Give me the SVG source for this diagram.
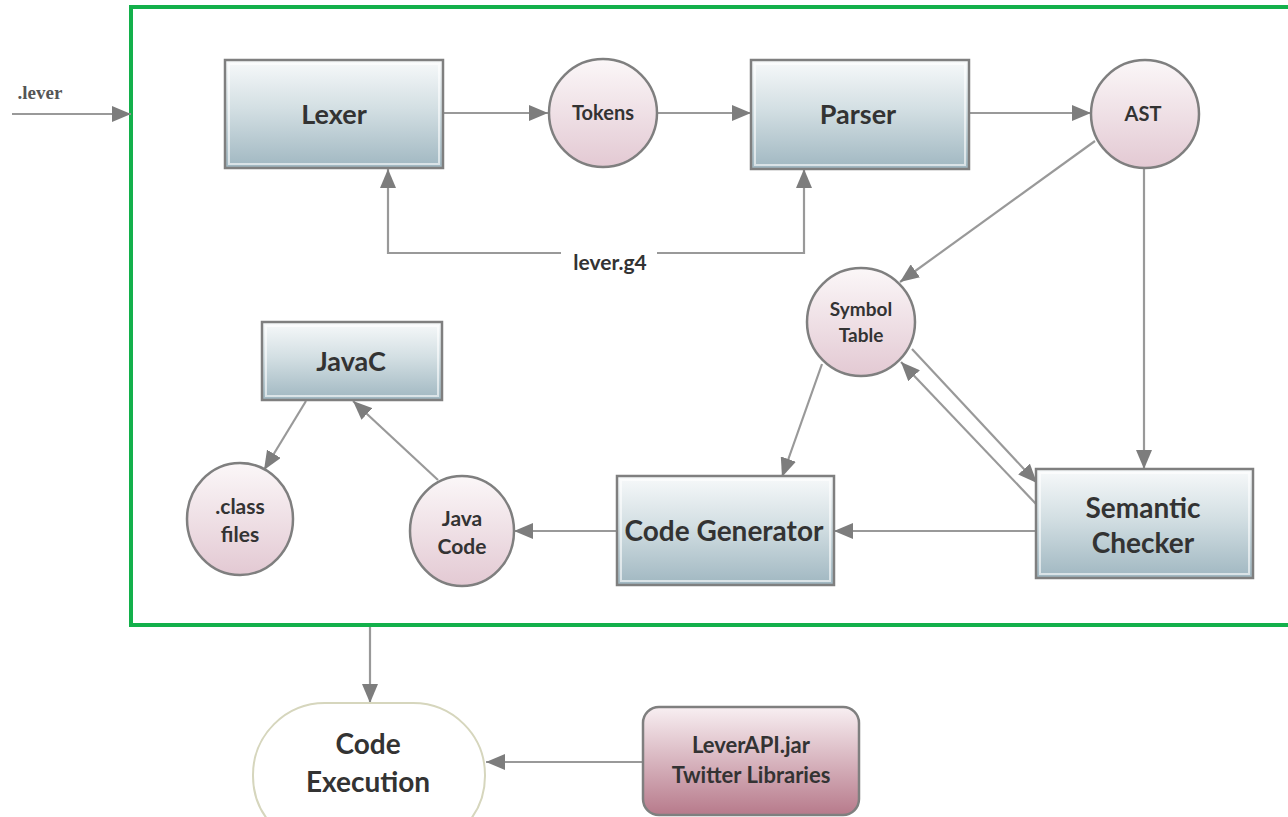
<svg xmlns="http://www.w3.org/2000/svg" width="1288" height="817" viewBox="0 0 1288 817">
<defs>
  <linearGradient id="boxG" x1="0" y1="0" x2="0" y2="1">
    <stop offset="0" stop-color="#f7f9fa"/>
    <stop offset="0.45" stop-color="#d3dfe3"/>
    <stop offset="1" stop-color="#a0b7c1"/>
  </linearGradient>
  <linearGradient id="circG" x1="0" y1="0" x2="0" y2="1">
    <stop offset="0" stop-color="#fbf7f8"/>
    <stop offset="1" stop-color="#e3c9d3"/>
  </linearGradient>
  <linearGradient id="libG" x1="0" y1="0" x2="0" y2="1">
    <stop offset="0" stop-color="#f8eff2"/>
    <stop offset="1" stop-color="#b77a8b"/>
  </linearGradient>
  <marker id="arr" markerUnits="userSpaceOnUse" markerWidth="20" markerHeight="16" refX="19" refY="8" orient="auto">
    <path d="M0,0 L19,8 L0,16 Z" fill="#7d7d7d"/>
  </marker>
</defs>
<style>
  .box { fill: url(#boxG); stroke: #7f7f7f; stroke-width: 2.5; }
  .inner { fill: none; stroke: #ffffff; stroke-opacity: 0.6; stroke-width: 2; }
  .circ { fill: url(#circG); stroke: #7f7f7f; stroke-width: 2.5; }
  .con { fill: none; stroke: #999999; stroke-width: 2.2; }
  .lbl { font-family: Lato, "Open Sans", "Liberation Sans", sans-serif; font-weight: bold; fill: #333333; text-anchor: middle; }
  .frame { fill: none; stroke: #13b04b; stroke-width: 4; }
</style>
<rect class="frame" x="131" y="7" width="1170" height="618"/>

<g id="connectors">
  <path class="con" d="M12,114 L131,114" marker-end="url(#arr)"/>
  <path class="con" d="M443,113 L548,113" marker-end="url(#arr)"/>
  <path class="con" d="M658,113 L751,113" marker-end="url(#arr)"/>
  <path class="con" d="M969,113 L1091,113" marker-end="url(#arr)"/>
  <path class="con" d="M561,253 L388,253 L388,169" marker-end="url(#arr)"/>
  <path class="con" d="M657,253 L804,253 L804,169" marker-end="url(#arr)"/>
  <path class="con" d="M1095,141 L900,282" marker-end="url(#arr)"/>
  <path class="con" d="M1144,168 L1144,469" marker-end="url(#arr)"/>
  <path class="con" d="M912,349 L1037,483" marker-end="url(#arr)"/>
  <path class="con" d="M1037,505 L901,362" marker-end="url(#arr)"/>
  <path class="con" d="M822,364 L782,477" marker-end="url(#arr)"/>
  <path class="con" d="M1036,531 L834,531" marker-end="url(#arr)"/>
  <path class="con" d="M617,531 L514,531" marker-end="url(#arr)"/>
  <path class="con" d="M438,480 L353,401" marker-end="url(#arr)"/>
  <path class="con" d="M306,401 L264,470" marker-end="url(#arr)"/>
  <path class="con" d="M370,627 L370,703" marker-end="url(#arr)"/>
  <path class="con" d="M643,762 L486,762" marker-end="url(#arr)"/>
  <text x="610" y="270" class="lbl" style="font-size:21px">lever.g4</text>
  <text x="40" y="99" style="font-family:'Liberation Serif',serif;font-size:19px;font-weight:bold;fill:#555555;text-anchor:middle">.lever</text>
</g>

<g id="lexer">
  <rect class="box" x="225" y="60" width="218" height="108"/>
  <rect class="inner" x="229" y="64" width="210" height="100"/>
  <text x="334" y="124" class="lbl" style="font-size:27px">Lexer</text>
</g>
<g id="tokens">
  <circle class="circ" cx="603" cy="113" r="54"/>
  <text x="603" y="120" class="lbl" style="font-size:20px">Tokens</text>
</g>
<g id="parser">
  <rect class="box" x="751" y="60" width="218" height="109"/>
  <rect class="inner" x="755" y="64" width="210" height="101"/>
  <text x="858" y="124" class="lbl" style="font-size:27px">Parser</text>
</g>
<g id="ast">
  <circle class="circ" cx="1145" cy="114" r="54"/>
  <text x="1143" y="121" class="lbl" style="font-size:20px">AST</text>
</g>
<g id="symbol-table">
  <circle class="circ" cx="861" cy="322" r="54"/>
  <text x="861" y="316" class="lbl" style="font-size:19px">Symbol</text>
  <text x="861" y="342" class="lbl" style="font-size:19px">Table</text>
</g>
<g id="javac">
  <rect class="box" x="262" y="322" width="180" height="78"/>
  <rect class="inner" x="266" y="326" width="172" height="70"/>
  <text x="351" y="371" class="lbl" style="font-size:27px">JavaC</text>
</g>
<g id="class-files">
  <ellipse class="circ" cx="240" cy="519" rx="53" ry="56"/>
  <text x="240" y="514" class="lbl" style="font-size:21px">.class</text>
  <text x="240" y="542" class="lbl" style="font-size:21px">files</text>
</g>
<g id="java-code">
  <ellipse class="circ" cx="462" cy="531" rx="52" ry="55"/>
  <text x="462" y="526" class="lbl" style="font-size:21px">Java</text>
  <text x="462" y="554" class="lbl" style="font-size:21px">Code</text>
</g>
<g id="code-generator">
  <rect class="box" x="617" y="476" width="217" height="109"/>
  <rect class="inner" x="621" y="480" width="209" height="101"/>
  <text x="724" y="541" class="lbl" style="font-size:28px">Code Generator</text>
</g>
<g id="semantic-checker">
  <rect class="box" x="1036" y="469" width="217" height="109"/>
  <rect class="inner" x="1040" y="473" width="209" height="101"/>
  <text x="1143" y="518" class="lbl" style="font-size:28px">Semantic</text>
  <text x="1143" y="553" class="lbl" style="font-size:28px">Checker</text>
</g>
<g id="code-execution">
  <rect x="253" y="703" width="232" height="145" rx="72" ry="72" fill="#ffffff" stroke="#d6d6bd" stroke-width="2"/>
  <text x="368" y="754" class="lbl" style="font-size:28px">Code</text>
  <text x="368" y="792" class="lbl" style="font-size:28px">Execution</text>
</g>
<g id="leverapi">
  <rect x="643" y="707" width="216" height="108" rx="16" ry="16" fill="url(#libG)" stroke="#7f7f7f" stroke-width="2.5"/>
  <text x="751" y="753" class="lbl" style="font-size:22px">LeverAPI.jar</text>
  <text x="751" y="783" class="lbl" style="font-size:22px">Twitter Libraries</text>
</g>
</svg>
